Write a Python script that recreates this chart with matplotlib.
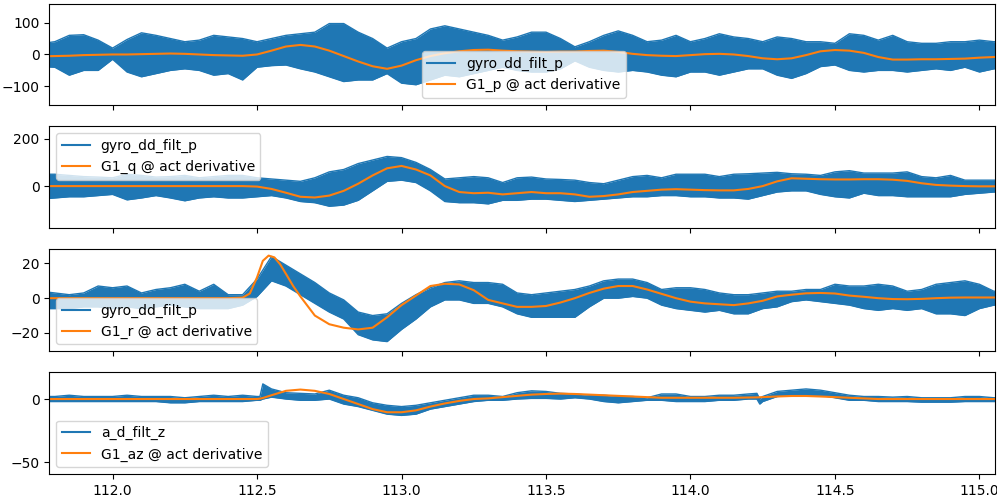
import numpy as np
import matplotlib
matplotlib.use("Agg")
import matplotlib.pyplot as plt

# common time grid (s)
t = np.round(np.arange(111.75, 115.1001, 0.05), 2)

# --- panel 1 : p ---
p_hi = [34, 40, 60, 62, 45, 20, 47, 68, 60, 50, 40, 45, 60, 55, 50, 40, 50, 60, 65, 70,
        97, 97, 70, 50, 20, 40, 50, 80, 90, 80, 70, 60, 45, 55, 70, 70, 50, 24, 40, 60,
        74, 60, 40, 45, 60, 40, 50, 65, 55, 50, 40, 55, 50, 40, 40, 35, 65, 60, 45, 60,
        40, 35, 35, 40, 40, 45, 40, 40]
p_lo = [-38, -40, -65, -50, -50, -15, -55, -70, -60, -50, -45, -50, -65, -60, -80, -40, -35, -33, -45, -55,
        -70, -85, -80, -80, -60, -90, -95, -80, -65, -70, -60, -50, -40, -50, -55, -55, -45, -20, -40, -50,
        -55, -50, -55, -65, -70, -55, -55, -65, -55, -45, -45, -65, -75, -60, -38, -33, -50, -55, -50, -50,
        -55, -50, -45, -50, -40, -55, -45, -45]
p_model = [-6, -5, -4, -2, -1, 0, 0, 1, 2, 3, 2, 0, -2, -3, -4, 0, 12, 25, 30, 25,
           12, -5, -22, -37, -45, -35, -18, -5, 4, 10, 14, 15, 12, 10, 9, 8, 9, 9, 11, 12,
           8, 2, -2, -4, -5, -2, 1, 2, 0, -5, -12, -15, -12, -2, 10, 14, 12, 5, -8, -16,
           -16, -15, -15, -14, -13, -10, -8, -7]

# --- panel 2 : q ---
q_hi = [50, 50, 45, 40, 38, 35, 50, 45, 38, 40, 45, 35, 40, 45, 45, 35, 30, 25, 20, 35,
        60, 70, 95, 110, 125, 120, 100, 70, 30, 35, 40, 35, 15, 35, 38, 30, 28, 25, 15, 10,
        25, 40, 45, 35, 50, 50, 50, 40, 50, 52, 55, 58, 52, 50, 45, 60, 65, 55, 55, 55,
        60, 40, 35, 45, 25, 25, 25, 25]
q_lo = [-55, -50, -45, -45, -40, -35, -58, -50, -40, -50, -62, -50, -45, -50, -50, -45, -40, -50, -65, -70,
        -85, -80, -60, -20, 20, 25, 15, -20, -65, -70, -70, -75, -60, -60, -55, -55, -60, -65, -60, -55,
        -50, -45, -45, -40, -40, -45, -45, -50, -50, -55, -40, -25, -20, -20, -35, -45, -50, -30, -40, -40,
        -45, -45, -45, -45, -35, -30, -25, -25]
q_model = [0, 0, 0, 0, 0, 0, 0, 0, 0, 0, 0, 0, 0, 0, 0, -2, -12, -28, -45, -48,
           -40, -20, 10, 45, 75, 85, 70, 45, 0, -25, -30, -28, -35, -30, -25, -30, -30, -35, -45, -42,
           -35, -25, -20, -15, -13, -15, -17, -18, -18, -12, 0, 20, 33, 31, 29, 28, 28, 29, 29, 27,
           22, 12, 5, 2, 0, -1, -1, -1]

# --- panel 3 : r ---
r_hi = [4, 3, 2, 3, 7, 6, 7, 3, 5, 6, 8, 4, 8, 2, 2, 11, 24, 19, 14, 9,
        3, -1, -8, -10, -9, -3, 2, 6, 9, 10, 9, 9, 8, 3, 2, 3, 4, 5, 7, 10,
        11, 11, 9, 5, 6, 6, 5, 3, 2, 2, 3, 4, 4, 5, 5, 8, 7, 7, 8, 7,
        4, 5, 8, 9, 10, 8, 4, 4]
r_lo = [-6, -6, -6, -5, -5, -6, -5, -6, -5, -4, -5, -6, -6, -6, -4, 1, 10, 7, 2, -3,
        -8, -12, -21, -24, -25, -18, -12, -5, -1, -1, -3, -3, -5, -9, -11, -11, -11, -11, -5, 0,
        0, 1, 0, -4, -6, -7, -8, -7, -9, -9, -6, -5, -2, -1, -2, -3, -4, -6, -7, -6,
        -7, -6, -9, -9, -10, -6, -4, -4]
# model curve read on its own (denser around the sharp peak)
t_r_model = [111.75, 111.80, 111.90, 112.00, 112.10, 112.20, 112.30, 112.40, 112.45, 112.475,
             112.50, 112.52, 112.54, 112.56, 112.58, 112.60, 112.625, 112.65, 112.70, 112.75,
             112.80, 112.85, 112.90, 112.95, 113.00, 113.05, 113.10, 113.15, 113.20, 113.25,
             113.30, 113.35, 113.40, 113.45, 113.50, 113.55, 113.60, 113.65, 113.70, 113.75,
             113.80, 113.85, 113.90, 113.95, 114.00, 114.05, 114.10, 114.15, 114.20, 114.25,
             114.30, 114.35, 114.40, 114.45, 114.50, 114.55, 114.60, 114.65, 114.70, 114.75,
             114.80, 114.85, 114.90, 114.95, 115.00, 115.05, 115.10]
r_model = [0, 0, 0, 0, 0, 0, 0, 0, 0.3, 2.7,
           12, 21.5, 24.5, 23.5, 19.5, 14, 7, 1, -10, -15,
           -17, -18, -17, -11, -4, 1.5, 7, 8.3, 7.9, 4.6,
           -1, -3, -5, -5, -4.5, -2.5, 0, 3, 5.5, 7,
           7, 5, 2.5, 0, -2, -3, -3.5, -4, -3, -1.5,
           1, 2, 2.8, 3, 2.7, 1.5, 0.8, 0, -0.5, -0.6,
           -0.4, 0, 0.3, 0.4, 0.4, 0.4, 0.4]

# --- panel 4 : az (own time list, with a few extra readings at the sharp events) ---
t_az = [111.75, 111.80, 111.85, 111.90, 111.95, 112.00, 112.05, 112.10, 112.15, 112.20,
        112.25, 112.30, 112.35, 112.40, 112.45, 112.50, 112.51, 112.52, 112.55, 112.60,
        112.65, 112.70, 112.75, 112.80, 112.85, 112.90, 112.95, 113.00, 113.05, 113.10,
        113.15, 113.20, 113.25, 113.30, 113.35, 113.40, 113.45, 113.50, 113.55, 113.60,
        113.65, 113.70, 113.75, 113.80, 113.85, 113.90, 113.95, 114.00, 114.05, 114.10,
        114.15, 114.20, 114.23, 114.24, 114.25, 114.30, 114.35, 114.40, 114.45, 114.50,
        114.55, 114.60, 114.65, 114.70, 114.75, 114.80, 114.85, 114.90, 114.95, 115.00,
        115.05, 115.10]
az_hi = [2, 2, 3, 2, 2, 2, 3, 2, 2, 2, 1, 2, 3, 2, 3, 2, 2, 12, 8, 5,
         4.5, 4, 7, 3, 1, -3, -5, -6, -5, -3, -1, 1, 3, 3, 2, 5, 6.5, 6, 4.5, 4,
         3, 3, 2, 2, 1, 4, 4, 2, 2, 3, 3, 4, 4.5, 0, 2, 6, 7, 8, 7, 5,
         3, 2, 2, 1.5, 2, 1, 1, 1, 2, 2, 1, 1]
az_lo = [-2, -2, -2, -2, -2, -2, -2, -2, -2, -3, -3, -2, -2, -2, -2, -1, -1, 0, 1.5, 0,
         -1, -1, 0, -4, -6, -9, -12, -13, -12, -8, -6, -4, -2, -1, -1, 0, 0.5, 0.5, 0, 1,
         0, -2, -3, -2, -1, -1, -2, -2, -2, -1, -1, 0, 0, -4, -2, 2, 3, 3, 3, 1,
         -1, -1, -2, -2, -2, -2.5, -2.5, -2.5, -2, -2, -2, -2]
az_model = [0, 0, 0, 0, 0, 0, 0, 0, 0, 0, 0, 0, 0, 0, 0, 0, 0.3, 0.8, 3, 6.5,
            7.5, 6.5, 4, 0, -4, -8, -10.5, -10.5, -9, -6, -3.5, -1.5, 0, 0.5, 1.5, 2.5, 3.5, 4, 4.3, 4,
            3.5, 3, 2.5, 2, 1.5, 1, 1, 1, 1, 1, 1, 1.2, 1.3, 1.4, 1.5, 2, 2.4, 2.4, 2, 1.5,
            1, 0.5, 0, 0, 0, 0, 0, 0, 0, 0, 0, 0]

panels = [
    (t, p_hi, p_lo, t, p_model, "gyro_dd_filt_p", "G1_p @ act derivative"),
    (t, q_hi, q_lo, t, q_model, "gyro_dd_filt_p", "G1_q @ act derivative"),
    (t, r_hi, r_lo, t_r_model, r_model, "gyro_dd_filt_p", "G1_r @ act derivative"),
    (t_az, az_hi, az_lo, t_az, az_model, "a_d_filt_z", "G1_az @ act derivative"),
]
ylims = [(-160, 160), (-178, 252), (-30.5, 28.2), (-59.5, 21.4)]
yticks = [[-100, 0, 100], [0, 200], [-20, 0, 20], [-50, 0]]

fig, axes = plt.subplots(4, 1, sharex=True, figsize=(9.97, 5.01), dpi=100)
fig.subplots_adjust(left=49.3 / 997, right=995 / 997, top=1 - 3.5 / 501,
                    bottom=1 - 474 / 501, hspace=0.205)

for i, (ax, (tt, hi, lo, tm, mod, lab_b, lab_o)) in enumerate(zip(axes, panels)):
    ax.fill_between(tt, lo, hi, color="C0", lw=0)
    ax.plot(tt, hi, color="C0", lw=1.0, label=lab_b)
    ax.plot(tt, lo, color="C0", lw=1.0)
    ax.plot(tm, mod, color="C1", lw=1.5, label=lab_o)
    ax.set_ylim(*ylims[i])
    ax.set_yticks(yticks[i])
    h, l = ax.get_legend_handles_labels()
    if i == 0:
        leg = ax.legend(h, l, loc="lower left", bbox_to_anchor=(0.394, 0.075), borderaxespad=0)
    elif i == 1:
        leg = ax.legend(h, l, loc="upper left")
    else:
        leg = ax.legend(h, l, loc="lower left")
    for lh in leg.get_lines():
        lh.set_linewidth(1.5)

axes[-1].set_xlim(111.781, 115.054)
axes[-1].set_xticks([112.0, 112.5, 113.0, 113.5, 114.0, 114.5, 115.0])

fig.savefig("out.png", dpi=100)
